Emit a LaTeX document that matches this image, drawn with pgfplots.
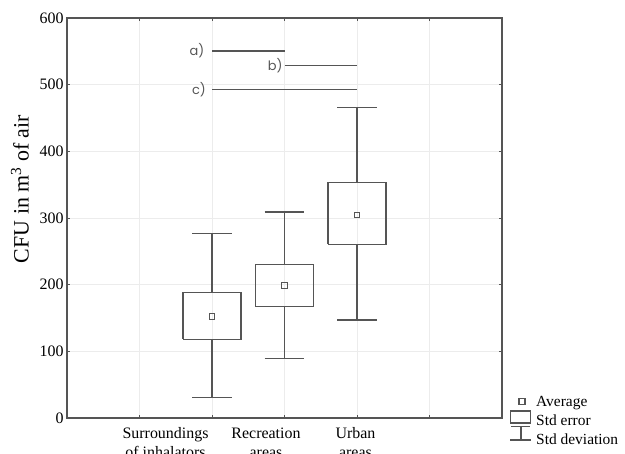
\documentclass[border=0pt]{standalone}
\usepackage{fontspec}
\setmainfont{Liberation Serif}
\newfontfamily\sansf{Poppins}
\usepackage{pgfplots}
\pgfplotsset{compat=1.18}
\definecolor{lc}{RGB}{85,85,85}
\definecolor{gc}{RGB}{236,236,236}
\begin{document}
\begin{tikzpicture}
\useasboundingbox (0bp,0bp) rectangle (625bp,454bp);
\begin{axis}[at={(67bp,36bp)}, anchor=south west, scale only axis,
  width=435bp, height=400bp,
  xmin=0, xmax=6, ymin=0, ymax=600,
  xtick={1,...,5}, xticklabels={}, ytick={0,100,...,600},
  grid=major, grid style={gc, line width=0.6pt},
  axis line style={lc, line width=1.6pt},
  tick style={lc, line width=0.9pt}, major tick length=3bp,
  tick label style={font=\fontsize{16}{19}\selectfont},
  /pgf/number format/assume math mode=true,
  unbounded coords=jump,
  clip=false]
% group 1: whisker 31..277, box 118..188.5
\addplot[lc, line width=1.4pt, mark=none] coordinates {
(1.6,118) (2.4,118) (2.4,188.5) (1.6,188.5) (1.6,118) (2,nan)
(2,188.5) (2,277) (2,nan) (1.725,277) (2.275,277) (2,nan)
(2,118) (2,31) (2,nan) (1.725,31) (2.275,31)};
% group 2: whisker 89..309, box 167..230.5
\addplot[lc, line width=1.4pt, mark=none] coordinates {
(2.6,167) (3.4,167) (3.4,230.5) (2.6,230.5) (2.6,167) (3,nan)
(3,230.5) (3,309) (3,nan) (2.725,309) (3.275,309) (3,nan)
(3,167) (3,89) (3,nan) (2.725,89) (3.275,89)};
% group 3: whisker 147..466, box 260.5..353
\addplot[lc, line width=1.4pt, mark=none] coordinates {
(3.6,260.5) (4.4,260.5) (4.4,353) (3.6,353) (3.6,260.5) (4,nan)
(4,353) (4,466) (4,nan) (3.725,466) (4.275,466) (4,nan)
(4,260.5) (4,147) (4,nan) (3.725,147) (4.275,147)};
\addplot[only marks, mark=square, mark size=2.8pt, lc, mark options={line width=1.1pt}] coordinates {(2,152.5) (3,198.5) (4,304.5)};
\addplot[lc, line width=1.4pt, mark=none] coordinates {(2,550.5) (3,550.5)};
\addplot[lc, line width=1.4pt, mark=none] coordinates {(3,528.5) (4,528.5)};
\addplot[lc, line width=1.4pt, mark=none] coordinates {(2,493) (4,493)};
\node[text=lc, font=\sansf\fontsize{13}{15}\selectfont] at (axis cs:1.793,550.5) {a)};
\node[text=lc, font=\sansf\fontsize{13}{15}\selectfont] at (axis cs:2.87,528.5) {b)};
\node[text=lc, font=\sansf\fontsize{13}{15}\selectfont] at (axis cs:1.82,493) {c)};
\node[anchor=base, yshift=-20bp, font=\fontsize{16}{19}\selectfont] at (axis cs:1.359,0) {Surroundings};
\node[anchor=base, yshift=-39.5bp, font=\fontsize{16}{19}\selectfont] at (axis cs:1.359,0) {of inhalators};
\node[anchor=base, yshift=-20bp, font=\fontsize{16}{19}\selectfont] at (axis cs:2.745,0) {Recreation};
\node[anchor=base, yshift=-39.5bp, font=\fontsize{16}{19}\selectfont] at (axis cs:2.745,0) {areas};
\node[anchor=base, yshift=-20bp, font=\fontsize{16}{19}\selectfont] at (axis cs:3.979,0) {Urban};
\node[anchor=base, yshift=-39.5bp, font=\fontsize{16}{19}\selectfont] at (axis cs:3.979,0) {areas};
\end{axis}
\node[rotate=90, font=\fontsize{22}{26}\selectfont] at (20bp,265bp) {CFU in m\textsuperscript{3} of air};
% legend
\draw[lc, line width=1.1pt] (519bp,49.3bp) rectangle (525bp,55.3bp);
\draw[lc, line width=1.4pt] (510.7bp,31bp) rectangle (530.7bp,43bp);
\draw[lc, line width=1.4pt] (511bp,27.3bp) -- (530bp,27.3bp) (521bp,27.3bp) -- (521bp,14bp) (510bp,14bp) -- (531bp,14bp);
\node[anchor=base west, font=\fontsize{15.5}{18}\selectfont, inner sep=0pt] at (536bp,47.3bp) {Average};
\node[anchor=base west, font=\fontsize{15.5}{18}\selectfont, inner sep=0pt] at (536bp,29bp) {Std error};
\node[anchor=base west, font=\fontsize{15.5}{18}\selectfont, inner sep=0pt] at (536bp,10bp) {Std deviation};
\end{tikzpicture}
\end{document}
